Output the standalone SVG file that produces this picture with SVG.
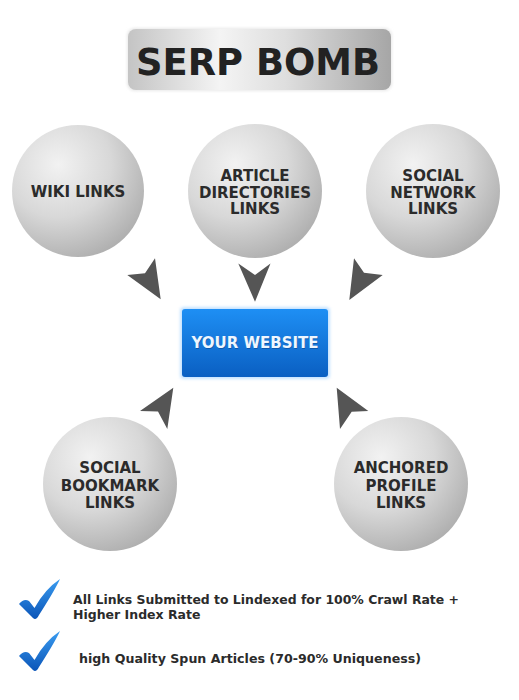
<svg xmlns="http://www.w3.org/2000/svg" width="519" height="700" viewBox="0 0 519 700">
<defs>
<linearGradient id="titleG" x1="0" y1="0" x2="1" y2="0">
<stop offset="0" stop-color="#c4c4c4"/>
<stop offset="0.35" stop-color="#f4f4f4"/>
<stop offset="0.6" stop-color="#dedede"/>
<stop offset="1" stop-color="#a6a6a6"/>
</linearGradient>
<radialGradient id="ballG" cx="0.35" cy="0.3" r="0.8">
<stop offset="0" stop-color="#f2f2f2"/>
<stop offset="0.5" stop-color="#d8d8d8"/>
<stop offset="1" stop-color="#a9a9a9"/>
</radialGradient>
<linearGradient id="boxG" x1="0" y1="0" x2="0" y2="1">
<stop offset="0" stop-color="#1e8ff4"/>
<stop offset="1" stop-color="#0a5fc2"/>
</linearGradient>
<linearGradient id="checkG" x1="0" y1="0" x2="0" y2="1">
<stop offset="0" stop-color="#3a9cf0"/>
<stop offset="1" stop-color="#0b55b8"/>
</linearGradient>
<filter id="soft" x="-10%" y="-10%" width="120%" height="120%">
<feGaussianBlur stdDeviation="1.5"/>
</filter>
</defs>
<style>
.lbl{font-family:"DejaVu Sans",Verdana,sans-serif;font-weight:bold;font-size:15px;fill:#2b2b2b;text-anchor:middle}
.ball{fill:url(#ballG)}
.arrow{fill:#555555}
.note{font-family:"DejaVu Sans",Verdana,sans-serif;font-weight:bold;font-size:12.5px;fill:#2b2b2b}
.check{fill:url(#checkG)}
</style>
<rect width="519" height="700" fill="#ffffff"/>

<g id="title">
<rect x="127" y="28" width="265" height="63" rx="8" fill="#e8e8e8" filter="url(#soft)"/>
<rect x="128" y="29" width="263" height="61" rx="8" fill="url(#titleG)"/>
<text x="258" y="75" font-family="'DejaVu Sans',Verdana,sans-serif" font-weight="bold" font-size="37" fill="#222222" text-anchor="middle" textLength="244" lengthAdjust="spacingAndGlyphs">SERP BOMB</text>
</g>

<g id="wiki">
<circle class="ball" cx="78" cy="191" r="66"/>
<text class="lbl" x="78" y="197">WIKI LINKS</text>
</g>
<g id="article">
<circle class="ball" cx="255" cy="191" r="67"/>
<text class="lbl" x="255" y="181">ARTICLE</text>
<text class="lbl" x="255" y="197.5">DIRECTORIES</text>
<text class="lbl" x="255" y="214">LINKS</text>
</g>
<g id="social-network">
<circle class="ball" cx="433" cy="191" r="67"/>
<text class="lbl" x="433" y="181">SOCIAL</text>
<text class="lbl" x="433" y="197.5">NETWORK</text>
<text class="lbl" x="433" y="214">LINKS</text>
</g>
<g id="social-bookmark">
<circle class="ball" cx="110" cy="484" r="67"/>
<text class="lbl" x="110" y="473">SOCIAL</text>
<text class="lbl" x="110" y="490.5">BOOKMARK</text>
<text class="lbl" x="110" y="507.5">LINKS</text>
</g>
<g id="anchored-profile">
<circle class="ball" cx="401" cy="484" r="67"/>
<text class="lbl" x="401" y="473">ANCHORED</text>
<text class="lbl" x="401" y="490.5">PROFILE</text>
<text class="lbl" x="401" y="507.5">LINKS</text>
</g>

<g id="website">
<rect x="180" y="307" width="150" height="72" rx="4" fill="#9fd0ff" opacity="0.6" filter="url(#soft)"/>
<rect x="182" y="309" width="146" height="68" rx="3" fill="url(#boxG)"/>
<text x="255.5" y="349" font-family="'DejaVu Sans',Verdana,sans-serif" font-weight="bold" font-size="15" fill="#0a3d80" opacity="0.5" text-anchor="middle">YOUR WEBSITE</text>
<text x="255" y="348" font-family="'DejaVu Sans',Verdana,sans-serif" font-weight="bold" font-size="15" fill="#eef6ff" text-anchor="middle">YOUR WEBSITE</text>
</g>

<g id="connectors">
<polygon class="arrow" points="127.3,275 145,273.3 155,258.3 160.7,299.3"/>
<polygon class="arrow" points="238.3,263.5 255,275 270.5,263.5 255,301.7"/>
<polygon class="arrow" points="354,258.3 364,272.7 382.7,275 349.3,300"/>
<polygon class="arrow" points="173.3,387.7 140,411 158,411.5 167.3,429"/>
<polygon class="arrow" points="336.7,387.7 368.3,411 351.7,411.7 340,429"/>
</g>

<g id="notes">
<path class="check" d="M19,604 Q24,598 29,601 L34.5,608 Q45,589 60,579 Q55,590 39,615 Q36,621 33,618 Z"/>
<path class="check" d="M19,656 Q24,650 29,653 L34.5,660 Q45,641 60,631 Q55,642 39,667 Q36,673 33,670 Z"/>
<text class="note" x="73" y="604" textLength="386" lengthAdjust="spacingAndGlyphs">All Links Submitted to Lindexed for 100% Crawl Rate +</text>
<text class="note" x="73" y="619">Higher Index Rate</text>
<text class="note" x="79" y="663" textLength="342" lengthAdjust="spacingAndGlyphs">high Quality Spun Articles (70-90% Uniqueness)</text>
</g>
</svg>
